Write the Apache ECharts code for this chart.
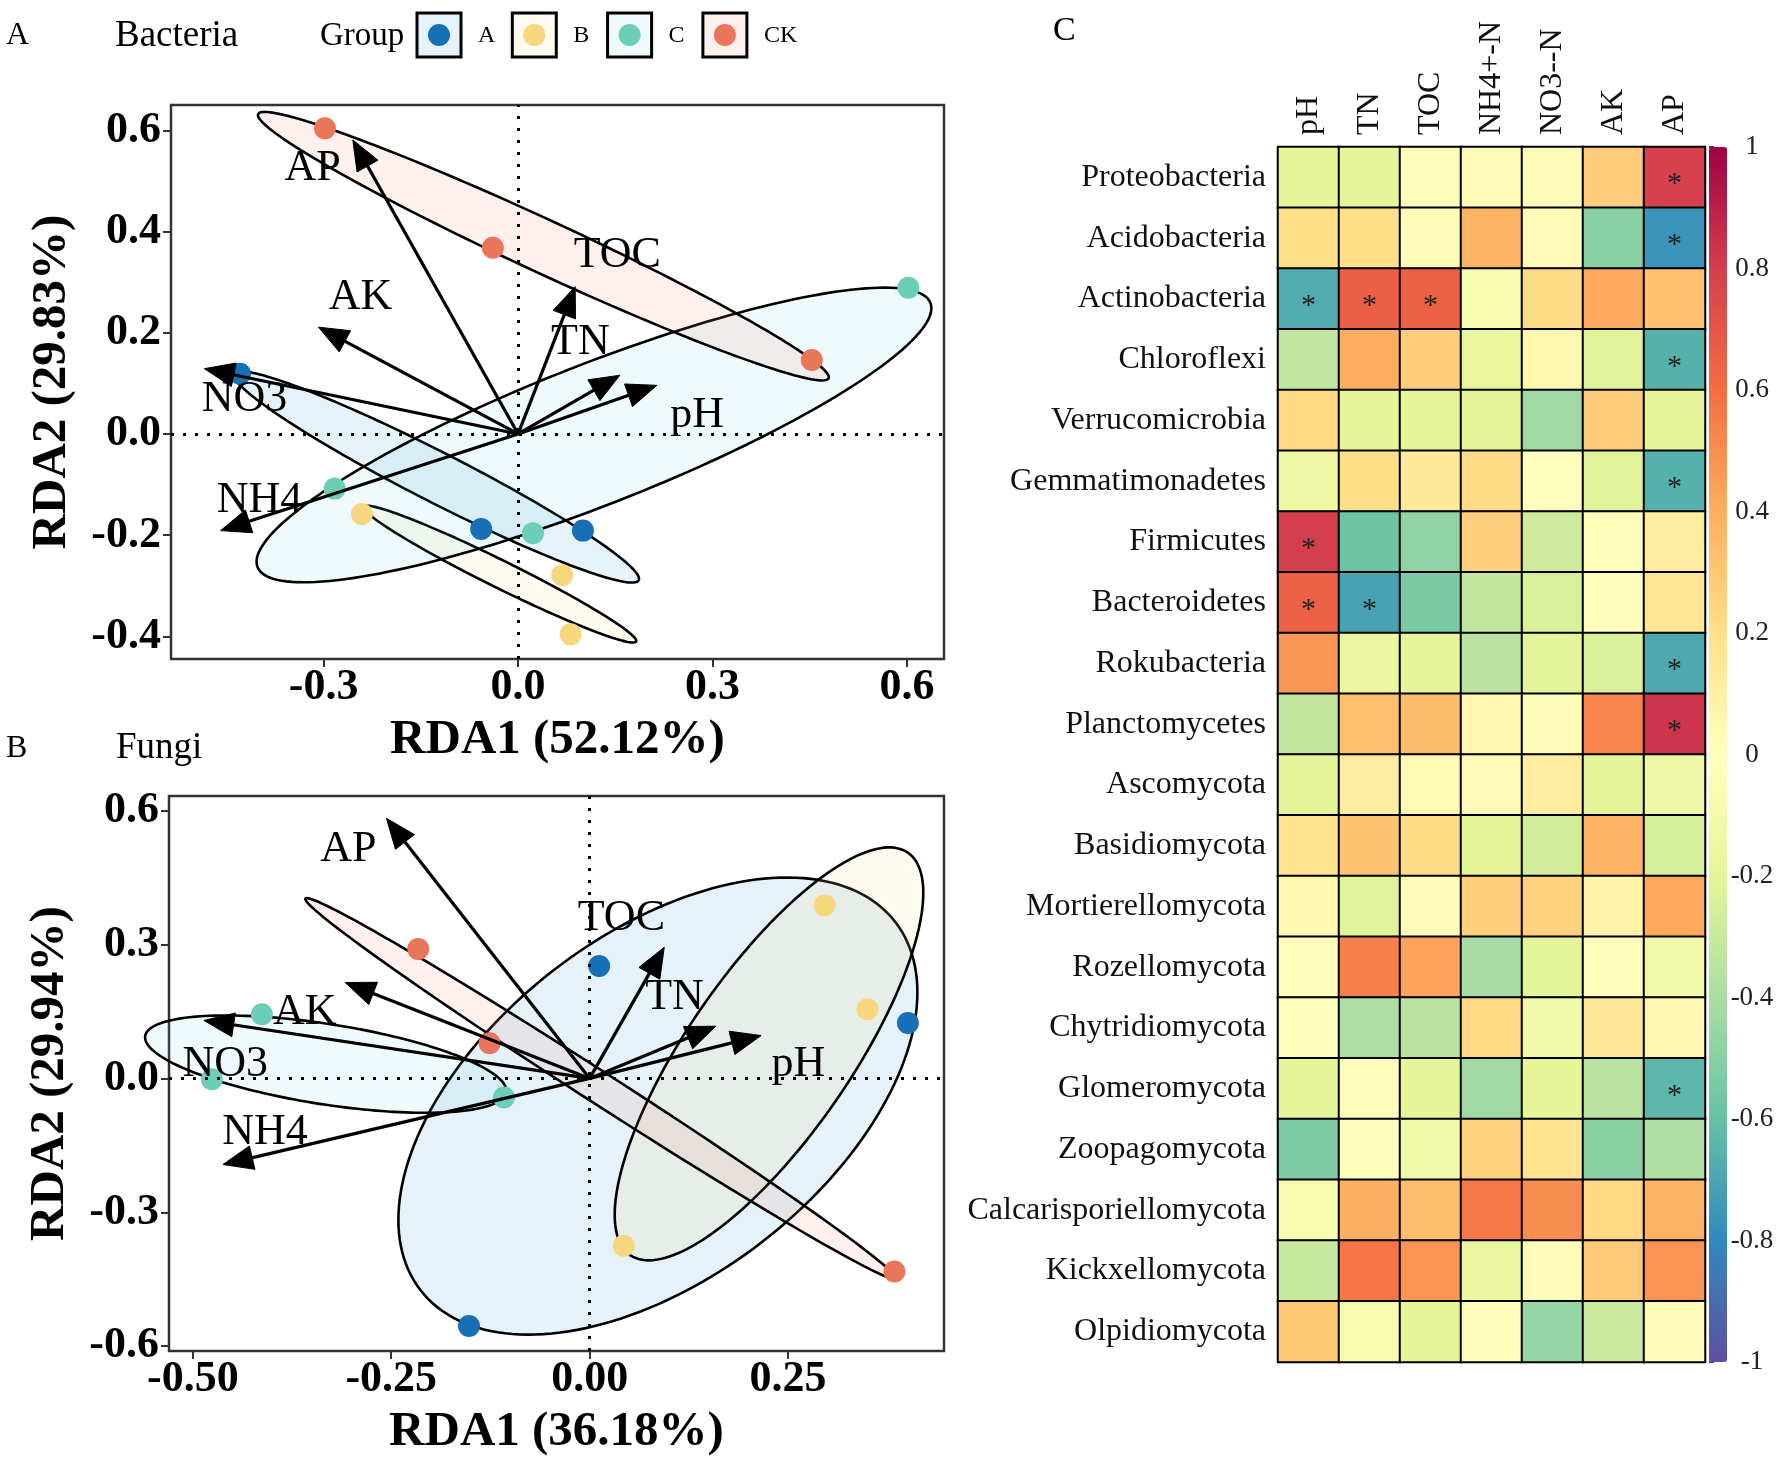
<!DOCTYPE html>
<html><head><meta charset="utf-8">
<script src="https://cdn.jsdelivr.net/npm/echarts@6/dist/echarts.min.js"></script>
<style>html,body{margin:0;padding:0;background:#fff}#c{width:1784px;height:1463px}</style>
</head><body><div id="c"></div>
<script>
// ---------------- data ----------------
const groups = ['A', 'B', 'C', 'CK'];
const groupColors = ['#1670B3', '#F7D77D', '#6DCEB8', '#E9765A'];
const groupFills = ['rgba(0,125,205,0.10)', 'rgba(247,215,125,0.12)', 'rgba(80,200,220,0.09)', 'rgba(233,118,90,0.11)'];

// Panel A: Bacteria RDA sample scores [RDA1, RDA2]
const bacA  = [[-0.429, 0.119], [-0.057, -0.188], [0.100, -0.191]];
const bacB  = [[-0.241, -0.158], [0.068, -0.279], [0.081, -0.396]];
const bacC  = [[0.602, 0.289], [-0.283, -0.108], [0.023, -0.196]];
const bacCK = [[-0.298, 0.604], [-0.039, 0.368], [0.453, 0.146]];
// Panel B: Fungi RDA sample scores
const funA  = [[-0.152, -0.555], [0.012, 0.252], [0.401, 0.124]];
const funB  = [[0.296, 0.388], [0.350, 0.155], [0.043, -0.375]];
const funC  = [[-0.413, 0.144], [-0.476, -0.002], [-0.108, -0.043]];
const funCK = [[-0.216, 0.290], [-0.126, 0.079], [0.384, -0.433]];

// Environmental arrows
const envLabels = ['AP', 'TOC', 'AK', 'TN', 'NO3', 'pH', 'NH4'];
const bacArrows = [[-0.255, 0.581], [0.088, 0.291], [-0.308, 0.211], [0.157, 0.116], [-0.484, 0.129], [0.214, 0.096], [-0.459, -0.191]];
const bacLabelPos = [[-0.317, 0.524], [0.153, 0.352], [-0.243, 0.270], [0.096, 0.181], [-0.422, 0.069], [0.276, 0.037], [-0.399, -0.131]];
const funArrows = [[-0.256, 0.583], [0.094, 0.294], [-0.308, 0.215], [0.159, 0.117], [-0.486, 0.130], [0.216, 0.096], [-0.462, -0.193]];
const funLabelPos = [[-0.304, 0.514], [0.040, 0.359], [-0.359, 0.148], [0.107, 0.181], [-0.459, 0.031], [0.263, 0.031], [-0.409, -0.120]];

// Group ellipses (order A, B, C, CK): centre, end of major semi-axis, minor/major ratio
const bacEllCenter = [[-0.126, -0.085], [-0.028, -0.277], [0.117, -0.002], [0.039, 0.371]];
const bacEllTip    = [[0.186, -0.289], [0.182, -0.410], [0.636, 0.259], [0.479, 0.110]];
const bacEllRatio  = [0.11, 0.09, 0.194, 0.084];
const funEllCenter = [[0.086, -0.062], [0.226, 0.055], [-0.3325, 0.032], [0.014, -0.023]];
const funEllTip    = [[0.385, 0.351], [0.401, 0.506], [-0.105, -0.031], [0.386, -0.449]];
const funEllRatio  = [0.57, 0.334, 0.22, 0.045];

// Axis ticks
const bacXTicks = [-0.3, 0.0, 0.3, 0.6];
const bacYTicks = [-0.4, -0.2, 0.0, 0.2, 0.4, 0.6];
const funXTicks = [-0.50, -0.25, 0.00, 0.25];
const funYTicks = [-0.6, -0.3, 0.0, 0.3, 0.6];

// Panel C: correlation heatmap
const rowNames = ['Proteobacteria', 'Acidobacteria', 'Actinobacteria', 'Chloroflexi', 'Verrucomicrobia',
  'Gemmatimonadetes', 'Firmicutes', 'Bacteroidetes', 'Rokubacteria', 'Planctomycetes', 'Ascomycota',
  'Basidiomycota', 'Mortierellomycota', 'Rozellomycota', 'Chytridiomycota', 'Glomeromycota',
  'Zoopagomycota', 'Calcarisporiellomycota', 'Kickxellomycota', 'Olpidiomycota'];
const colNames = ['pH', 'TN', 'TOC', 'NH4+-N', 'NO3--N', 'AK', 'AP'];
const corr = [
  [-0.20, -0.20, -0.02,  0.03,  0.02,  0.28,  0.79],
  [ 0.20,  0.20,  0.02,  0.38,  0.03, -0.50, -0.76],
  [-0.68,  0.66,  0.65, -0.08,  0.22,  0.42,  0.33],
  [-0.33,  0.40,  0.28, -0.18,  0.06, -0.22, -0.66],
  [ 0.23, -0.20, -0.20, -0.20, -0.43,  0.28, -0.20],
  [-0.14,  0.20,  0.14,  0.22,  0.00, -0.22, -0.66],
  [ 0.80, -0.58, -0.48,  0.27, -0.28, -0.02,  0.12],
  [ 0.65, -0.71, -0.54, -0.32, -0.24, -0.01,  0.16],
  [ 0.47, -0.16, -0.20, -0.35, -0.21, -0.24, -0.69],
  [-0.32,  0.33,  0.35,  0.05,  0.02,  0.52,  0.83],
  [-0.20,  0.12,  0.04,  0.03,  0.12, -0.20, -0.14],
  [ 0.18,  0.32,  0.22, -0.20, -0.27,  0.38, -0.25],
  [ 0.05, -0.22,  0.02,  0.27,  0.26,  0.08,  0.42],
  [ 0.01,  0.54,  0.43, -0.41, -0.21,  0.01, -0.12],
  [ 0.01, -0.39, -0.35,  0.23, -0.11,  0.15,  0.05],
  [-0.20,  0.01, -0.20, -0.43, -0.20, -0.35, -0.64],
  [-0.53,  0.01, -0.12,  0.26,  0.18, -0.49, -0.38],
  [-0.08,  0.39,  0.34,  0.56,  0.50,  0.23,  0.38],
  [-0.31,  0.57,  0.48, -0.17,  0.02,  0.29,  0.48],
  [ 0.30, -0.08, -0.20,  0.01, -0.46, -0.30,  0.02]
];
const sigCells = [[0, 6], [1, 6], [2, 0], [2, 1], [2, 2], [3, 6], [5, 6], [6, 0], [7, 0], [7, 1], [8, 6], [9, 6], [15, 6]];
const spectral = ['#5E4FA2', '#3288BD', '#66C2A5', '#ABDDA4', '#E6F598', '#FFFFBF', '#FEE08B', '#FDAE61', '#F46D43', '#D53E4F', '#9E0142'];

// ---------------- chart ----------------
const FONT = "'Liberation Serif', 'Times New Roman', serif";
const sigSet = new Set(sigCells.map(d => d[0] + '_' + d[1]));

const chart = echarts.init(document.getElementById('c'), null, { renderer: 'canvas', width: 1784, height: 1463 });

const grids = [
  { left: 171, top: 105, width: 773, height: 554, show: true, borderColor: '#333', borderWidth: 2.5, backgroundColor: 'transparent' },
  { left: 169, top: 796, width: 775, height: 555, show: true, borderColor: '#333', borderWidth: 2.5, backgroundColor: 'transparent' },
  { left: 1278, top: 147, width: 427, height: 1215 },
  { left: 1709, top: 147, width: 18, height: 1215 }
];

function valAxis(idx, min, max, ticks, dec, name, gap, isY) {
  return {
    gridIndex: idx, type: 'value', min: min, max: max,
    axisLine: { show: false, onZero: false }, splitLine: { show: false },
    axisTick: { show: true, customValues: ticks, length: 8, lineStyle: { color: '#333', width: 2 } },
    axisLabel: { customValues: ticks, formatter: v => Number(v).toFixed(dec), fontFamily: FONT, fontWeight: 'bold', fontSize: 44, color: '#000', margin: isY ? 10 : 7 },
    name: name, nameLocation: 'middle', nameGap: gap,
    nameTextStyle: { fontFamily: FONT, fontWeight: 'bold', fontSize: 49, color: '#000' }
  };
}

const xAxes = [
  valAxis(0, -0.5355, 0.657, bacXTicks, 1, 'RDA1 (52.12%)', 57, false),
  valAxis(1, -0.530, 0.4465, funXTicks, 2, 'RDA1 (36.18%)', 57, false),
  { gridIndex: 2, type: 'category', data: colNames, position: 'top', axisLine: { show: false }, axisTick: { show: false },
    axisLabel: { rotate: -90, fontFamily: FONT, fontSize: 32, color: '#111', margin: 12 } },
  { gridIndex: 3, type: 'value', show: false, min: 0, max: 1 }
];
const yAxes = [
  valAxis(0, -0.4447, 0.650, bacYTicks, 1, 'RDA2 (29.83%)', 94, true),
  valAxis(1, -0.611, 0.633, funYTicks, 1, 'RDA2 (29.94%)', 94, true),
  { gridIndex: 2, type: 'category', data: rowNames, inverse: true, axisLine: { show: false }, axisTick: { show: false },
    axisLabel: { fontFamily: FONT, fontSize: 32, color: '#111', margin: 12 } },
  { gridIndex: 3, type: 'value', min: -1, max: 1, interval: 0.2, position: 'right',
    axisLine: { show: false }, splitLine: { show: false },
    axisTick: { show: true, inside: false, length: 5, lineStyle: { color: '#000', width: 1.5 } },
    axisLabel: { fontFamily: FONT, fontSize: 27, color: '#222', margin: 25, align: 'center' } }
];

const series = [];
function addPanel(idx, pts, arrows, labelPos, ellC, ellT, ellR) {
  // ellipses
  series.push({
    type: 'custom', xAxisIndex: idx, yAxisIndex: idx, clip: false, z: 2, silent: true,
    data: groups.map((g, i) => [ellC[i][0], ellC[i][1], ellT[i][0], ellT[i][1], ellR[i], i]),
    renderItem: function (params, api) {
      const c = api.coord([api.value(0), api.value(1)]);
      const t = api.coord([api.value(2), api.value(3)]);
      const r = api.value(4), gi = api.value(5);
      const ax = t[0] - c[0], ay = t[1] - c[1];
      const bx = -ay * r, by = ax * r;
      const p = [];
      for (let k = 0; k < 180; k++) {
        const th = k / 180 * Math.PI * 2;
        p.push([c[0] + Math.cos(th) * ax + Math.sin(th) * bx, c[1] + Math.cos(th) * ay + Math.sin(th) * by]);
      }
      return { type: 'polygon', shape: { points: p }, style: { fill: groupFills[gi], stroke: '#000', lineWidth: 2.6 } };
    }
  });
  // points
  groups.forEach((g, i) => {
    const s = {
      type: 'scatter', name: g, xAxisIndex: idx, yAxisIndex: idx, z: 3, silent: true,
      symbolSize: 22, itemStyle: { color: groupColors[i], opacity: 1 }, data: pts[i]
    };
    if (i === 0) {
      s.markLine = { silent: true, symbol: 'none', label: { show: false },
        lineStyle: { color: '#000', width: 3, type: [3, 9] }, data: [{ xAxis: 0 }, { yAxis: 0 }] };
    }
    series.push(s);
  });
  // arrows
  series.push({
    type: 'custom', xAxisIndex: idx, yAxisIndex: idx, z: 4, silent: true, data: arrows,
    renderItem: function (params, api) {
      const o = api.coord([0, 0]);
      const t = api.coord([api.value(0), api.value(1)]);
      const dx = t[0] - o[0], dy = t[1] - o[1], len = Math.hypot(dx, dy);
      const ux = dx / len, uy = dy / len, L = 30, W = 12;
      const bx = t[0] - ux * L, by = t[1] - uy * L;
      return { type: 'group', children: [
        { type: 'line', shape: { x1: o[0], y1: o[1], x2: bx + ux * 4, y2: by + uy * 4 }, style: { stroke: '#000', lineWidth: 3.2 } },
        { type: 'polygon', shape: { points: [[t[0], t[1]], [bx - uy * W, by + ux * W], [bx + uy * W, by - ux * W]] }, style: { fill: '#000', stroke: '#000', lineWidth: 1 } }
      ] };
    }
  });
  // labels
  series.push({
    type: 'custom', xAxisIndex: idx, yAxisIndex: idx, z: 5, silent: true, data: labelPos,
    renderItem: function (params, api) {
      const p = api.coord([api.value(0), api.value(1)]);
      return { type: 'text', x: p[0], y: p[1], style: { text: envLabels[params.dataIndex], fontFamily: FONT, fontSize: 44, fill: '#000', align: 'center', verticalAlign: 'middle' } };
    }
  });
}
addPanel(0, [bacA, bacB, bacC, bacCK], bacArrows, bacLabelPos, bacEllCenter, bacEllTip, bacEllRatio);
addPanel(1, [funA, funB, funC, funCK], funArrows, funLabelPos, funEllCenter, funEllTip, funEllRatio);

const heatData = [];
corr.forEach((row, r) => row.forEach((v, c) => heatData.push([c, r, v])));
const heatIndex = series.length;
series.push({
  type: 'heatmap', xAxisIndex: 2, yAxisIndex: 2, data: heatData, silent: true,
  itemStyle: { borderColor: '#000', borderWidth: 2 },
  label: { show: true, formatter: p => sigSet.has(p.data[1] + '_' + p.data[0]) ? '*' : '', fontFamily: FONT, fontSize: 30, color: '#222', offset: [0, 7] },
  emphasis: { disabled: true }
});
// dummy series so the colorbar axis exists
series.push({ type: 'scatter', xAxisIndex: 3, yAxisIndex: 3, data: [], silent: true });

// legend & panel labels
const graphic = [
  { type: 'text', left: 6, top: 20, style: { text: 'A', fontFamily: FONT, fontSize: 32, fill: '#000' } },
  { type: 'text', left: 115, top: 18, style: { text: 'Bacteria', fontFamily: FONT, fontSize: 37, fill: '#000' } },
  { type: 'text', left: 320, top: 20, style: { text: 'Group', fontFamily: FONT, fontSize: 33, fill: '#000' } },
  { type: 'text', left: 6, top: 733, style: { text: 'B', fontFamily: FONT, fontSize: 32, fill: '#000' } },
  { type: 'text', left: 116, top: 730, style: { text: 'Fungi', fontFamily: FONT, fontSize: 37, fill: '#000' } },
  { type: 'text', left: 1053, top: 14, style: { text: 'C', fontFamily: FONT, fontSize: 34, fill: '#000' } }
];
groups.forEach((g, i) => {
  const bl = 417 + i * 95.3;
  graphic.push({ type: 'rect', shape: { x: bl, y: 13, width: 44, height: 44 }, style: { fill: groupFills[i], stroke: '#000', lineWidth: 3 } });
  graphic.push({ type: 'circle', shape: { cx: bl + 22, cy: 35, r: 11 }, style: { fill: groupColors[i] } });
  graphic.push({ type: 'text', x: bl + 61, y: 36, style: { text: g, fontFamily: FONT, fontSize: 24, fill: '#000', verticalAlign: 'middle' } });
});

chart.setOption({
  animation: false,
  backgroundColor: '#fff',
  grid: grids,
  xAxis: xAxes,
  yAxis: yAxes,
  visualMap: [{
    type: 'continuous', min: -1, max: 1, seriesIndex: heatIndex, calculable: false, orient: 'vertical',
    left: 1709, top: 147, itemWidth: 18, itemHeight: 1215, padding: 0, text: null, hoverLink: false,
    inRange: { color: spectral }
  }],
  graphic: graphic,
  series: series
});
</script>
</body></html>
